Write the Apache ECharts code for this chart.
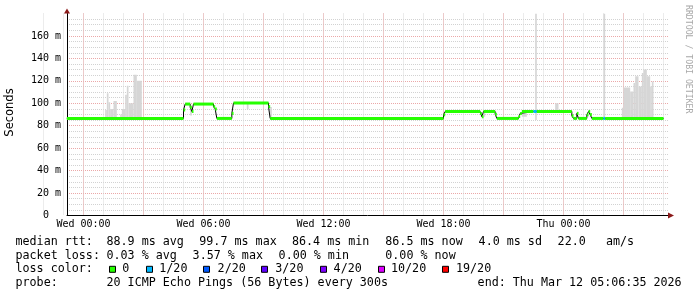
<!DOCTYPE html>
<html><head><meta charset="utf-8">
<script src="https://cdn.jsdelivr.net/npm/echarts@6/dist/echarts.min.js"></script>
<style>html,body{margin:0;padding:0;background:#fff}#c{width:697px;height:297px}</style>
</head><body><div id="c"></div>
<script>
// ---------------- data ----------------
const medianStart = ['Tue 23:10','Wed 05:00','Wed 05:05','Wed 05:20','Wed 05:25','Wed 05:30','Wed 06:30','Wed 06:35','Wed 06:40','Wed 07:25','Wed 07:30','Wed 09:15','Wed 09:20','Wed 18:00','Wed 18:05','Wed 19:50','Wed 19:55','Wed 20:00','Wed 20:35','Wed 20:40','Wed 21:45','Wed 21:50','Wed 21:55','Wed 22:30','Wed 22:40','Thu 00:25','Thu 00:30','Thu 00:40','Thu 00:45','Thu 01:10','Thu 01:15','Thu 01:20','Thu 01:25','Thu 02:00','Thu 02:05'];
const medianValue = [86.5,94,99.3,96.5,92.7,99.3,97,95,86.5,91,100.3,97,86.5,89.7,92.7,91,88,92.7,90.3,86.5,88.2,91,92.7,92.7,92.7,88.8,86.5,91,86.5,89.7,92.7,90,86.5,86.5,86.5];
const medianLoss = [0,0,0,0,0,0,0,0,0,0,0,0,0,0,0,0,0,0,0,0,0,0,0,1,0,0,0,0,0,0,0,0,0,1,0];
const medianEnd = 'Thu 05:00';

const smokeStart = ['Wed 01:05','Wed 01:10','Wed 01:15','Wed 01:20','Wed 01:30','Wed 01:50','Wed 01:55','Wed 02:05','Wed 02:10','Wed 02:15','Wed 02:30','Wed 02:40','Wed 05:20','Wed 08:10','Wed 09:20','Wed 20:00','Wed 21:55','Wed 22:35','Wed 23:35','Thu 02:00','Thu 02:55','Thu 03:00','Thu 03:20','Thu 03:30','Thu 03:35','Thu 03:45','Thu 03:55','Thu 04:00','Thu 04:10','Thu 04:20','Thu 04:25'];
const smokeEnd = ['Wed 01:10','Wed 01:15','Wed 01:20','Wed 01:30','Wed 01:40','Wed 01:55','Wed 02:05','Wed 02:10','Wed 02:15','Wed 02:30','Wed 02:40','Wed 02:55','Wed 05:25','Wed 08:15','Wed 09:25','Wed 20:05','Wed 22:10','Wed 22:40','Wed 23:45','Thu 02:05','Thu 03:00','Thu 03:20','Thu 03:30','Thu 03:35','Thu 03:45','Thu 03:55','Thu 04:00','Thu 04:10','Thu 04:20','Thu 04:25','Thu 04:30'];
const smokeMin = [85,85,85,85,85,85,85,85,85,85,85,85,89,95,88,88,88,85,92.7,85,85,85,85,85,85,85,85,85,85,85,85];
const smokeMax = [94,109,101,95,102,90,95,107.5,115.6,100,125.5,120,94,100,96.6,92.7,92.7,200,100,200,96,114,110.5,118,124,115,127,130,124,115,119.5];

const axisStart = 'Tue 23:10:30';
const axisEnd = 'Thu 05:13:30';
const yTickValues = [0,20,40,60,80,100,120,140,160];
const yTickLabels = ['0  ','20 m','40 m','60 m','80 m','100 m','120 m','140 m','160 m'];
const xTickHours = [0,6,12,18,24];
const xTickLabels = ['Wed 00:00','Wed 06:00','Wed 12:00','Wed 18:00','Thu 00:00'];

const lossLevels = [0,1,2,3,4,10,19];
const lossLabels = ['0','1/20','2/20','3/20','4/20','10/20','19/20'];
const lossColors = ['#26ff00','#00b8ff','#0059ff','#5e00ff','#7e00ff','#dd00ff','#ff0000'];

const rttTexts = ['median rtt:','88.9 ms avg','99.7 ms max','86.4 ms min','86.5 ms now','4.0 ms sd','22.0','am/s'];
const lossTexts = ['packet loss:','0.03 % avg','3.57 % max','0.00 % min','0.00 % now'];
const probeTexts = ['probe:','20 ICMP Echo Pings (56 Bytes) every 300s','end: Thu Mar 12 05:06:35 2026'];
const lossColorTitle = 'loss color:';
const yName = 'Seconds';
const sideText = 'RRDTOOL / TOBI OETIKER';

// ---------------- layout (positions) ----------------
const rttX = [15.5,106.5,199.3,292,385.3,478.6,557.6,606];
const lossX = [15.5,106.5,192.6,278.6,385.3];
const probeX = [15.5,106.5,477.6];
const boxX = [109,146,203,261,320,378,442];
const boxLabelX = [122.3,159.3,217.6,275.3,333.6,391,456];
const rowY = [241.7,255.7,269.3,282.7];

function hrs(s){const p=s.split(' ');const t=p[1].split(':').map(Number);return ({Tue:-24,Wed:0,Thu:24})[p[0]]+t[0]+t[1]/60+(t[2]||0)/3600;}

const xMin = hrs(axisStart), xMax = hrs(axisEnd);
const plotLeft = 67, plotTop = 13.5, plotHeight = 202, pxPerHour = 20;
const plotWidth = (xMax - xMin) * pxPerHour;
const gridMin = -3;
const grid2Left = plotLeft - (xMin - gridMin) * pxPerHour;

const smokeData = smokeStart.map((s,i)=>[hrs(s),hrs(smokeEnd[i]),smokeMin[i],smokeMax[i]]);
const bandData = medianStart.map((s,i)=>[hrs(s), i+1<medianStart.length?hrs(medianStart[i+1]):hrs(medianEnd), medianValue[i], medianLoss[i]]);
const lineData = medianStart.map((s,i)=>[hrs(s),medianValue[i]]).concat([[hrs(medianEnd),medianValue[medianValue.length-1]]]);

const mono = 'DejaVu Sans Mono';
const graphics = [];
function txt(text,x,y,size,color,extra){
  graphics.push(Object.assign({type:'text',x:x,y:y,silent:true,style:{text:text,x:0,y:0,fill:color||'#000',font:size+'px "'+mono+'"',textAlign:'left',textVerticalAlign:'middle',align:'left',verticalAlign:'middle'}},extra||{}));
}
const statFont = 11.7;
rttTexts.forEach((t,i)=>txt(t,rttX[i],rowY[0],statFont));
lossTexts.forEach((t,i)=>txt(t,lossX[i],rowY[1],statFont));
txt(lossColorTitle,15.5,rowY[2],statFont);
lossLabels.forEach((t,i)=>{
  graphics.push({type:'rect',silent:true,shape:{x:boxX[i]+0.5,y:rowY[2]-3,width:6,height:6},style:{fill:lossColors[i],stroke:'#000',lineWidth:1}});
  txt(t,boxLabelX[i],rowY[2],statFont);
});
probeTexts.forEach((t,i)=>txt(t,probeX[i],rowY[3],statFont));
graphics.push({type:'text',x:10.5,y:112.5,rotation:Math.PI/2,silent:true,style:{text:yName,x:0,y:0,fill:'#000',font:'11.5px "DejaVu Sans"',textAlign:'center',textVerticalAlign:'middle',align:'center',verticalAlign:'middle'}});
graphics.push({type:'text',x:688,y:5,rotation:-Math.PI/2,silent:true,style:{text:sideText,x:0,y:0,fill:'#a8a8a8',font:'8.2px "'+mono+'"',textAlign:'left',textVerticalAlign:'middle',align:'left',verticalAlign:'middle'}});

const minorGridH = {color:'#d2d2d2',type:[1,1],width:1};
const minorGridV = {color:'#d9d9d9',type:[1,1],width:1};
const majorGrid = {color:'#eba8a8',type:[1,1],width:1};

const chart = echarts.init(document.getElementById('c'),null,{renderer:'canvas'});
const hidden = {show:false};
chart.setOption({
  animation:false,
  backgroundColor:'#fff',
  textStyle:{fontFamily:mono},
  grid:[
    {left:plotLeft,top:plotTop,width:plotWidth,height:plotHeight,containLabel:false,outerBoundsMode:'none'},
    {left:grid2Left,top:plotTop,width:plotWidth+(plotLeft-grid2Left),height:plotHeight,containLabel:false,outerBoundsMode:'none'}
  ],
  xAxis:[
    {gridIndex:0,type:'value',position:'bottom',min:xMin,max:xMax,
     axisLine:{show:true,onZero:false,lineStyle:{color:'#000',width:1}},
     axisTick:hidden,axisLabel:hidden,splitLine:hidden},
    {gridIndex:1,type:'value',position:'top',min:gridMin,max:xMax,interval:1,
     axisLine:hidden,axisTick:hidden,axisLabel:hidden,
     splitLine:{show:true,showMinLine:false,showMaxLine:false,lineStyle:minorGridV}},
    {gridIndex:1,type:'value',position:'bottom',min:gridMin,max:xMax,interval:3,
     axisLine:{show:true,onZero:false,symbol:['none','triangle'],symbolSize:[6,6],symbolOffset:[0,3],lineStyle:{color:'#8b1a1a',opacity:0}},
     axisTick:hidden,
     axisLabel:{show:true,margin:4,color:'#000',fontFamily:mono,fontSize:10,showMinLabel:true,showMaxLabel:true,hideOverlap:false,
       formatter:v=>{const i=xTickHours.findIndex(h=>Math.abs(h-v)<1e-6);return i>=0?xTickLabels[i]:'';}},
     splitLine:{show:true,showMinLine:false,showMaxLine:false,lineStyle:majorGrid}}
  ],
  yAxis:[
    {gridIndex:0,type:'value',position:'left',min:0,max:180,interval:20,
     axisLine:{show:true,onZero:false,lineStyle:{color:'#000',width:1}},
     axisTick:hidden,
     axisLabel:{show:true,margin:6,color:'#000',fontFamily:mono,fontSize:10,showMaxLabel:true,
       formatter:v=>{const i=yTickValues.indexOf(Math.round(v));return i>=0?yTickLabels[i]:'';}},
     splitLine:{show:true,showMinLine:false,showMaxLine:false,lineStyle:majorGrid},
     minorTick:{show:false,splitNumber:4},
     minorSplitLine:{show:true,lineStyle:minorGridH}},
    {gridIndex:1,type:'value',min:0,max:180,show:false},
    {gridIndex:0,type:'value',position:'left',min:0,max:180,
     axisLine:{show:true,onZero:false,symbol:['none','triangle'],symbolSize:[6,5],symbolOffset:[0,2.5],lineStyle:{color:'#8b1a1a',opacity:0}},
     axisTick:hidden,axisLabel:hidden,splitLine:hidden}
  ],
  series:[
    {type:'custom',name:'smoke',xAxisIndex:0,yAxisIndex:0,clip:true,data:smokeData,encode:{x:[0,1],y:[2,3]},
     renderItem:(params,api)=>{
       const a=api.coord([api.value(0),Math.min(api.value(3),180)]);
       const b=api.coord([api.value(1),api.value(2)]);
       return {type:'rect',shape:{x:a[0],y:a[1],width:b[0]-a[0],height:b[1]-a[1]},style:{fill:'#d6d6d6'}};
     }},
    {type:'line',name:'median',xAxisIndex:0,yAxisIndex:0,step:'end',showSymbol:false,symbol:'none',data:lineData,
     lineStyle:{color:'#000',width:1},z:3},
    {type:'custom',name:'band',xAxisIndex:0,yAxisIndex:0,data:bandData,encode:{x:[0,1],y:2},z:4,
     renderItem:(params,api)=>{
       const a=api.coord([api.value(0),api.value(2)]);
       const b=api.coord([api.value(1),api.value(2)]);
       const li=lossLevels.indexOf(api.value(3));
       return {type:'rect',shape:{x:a[0],y:a[1]-1.5,width:b[0]-a[0],height:3},style:{fill:lossColors[li<0?0:li]}};
     }}
  ],
  graphic:graphics
});
</script></body></html>
